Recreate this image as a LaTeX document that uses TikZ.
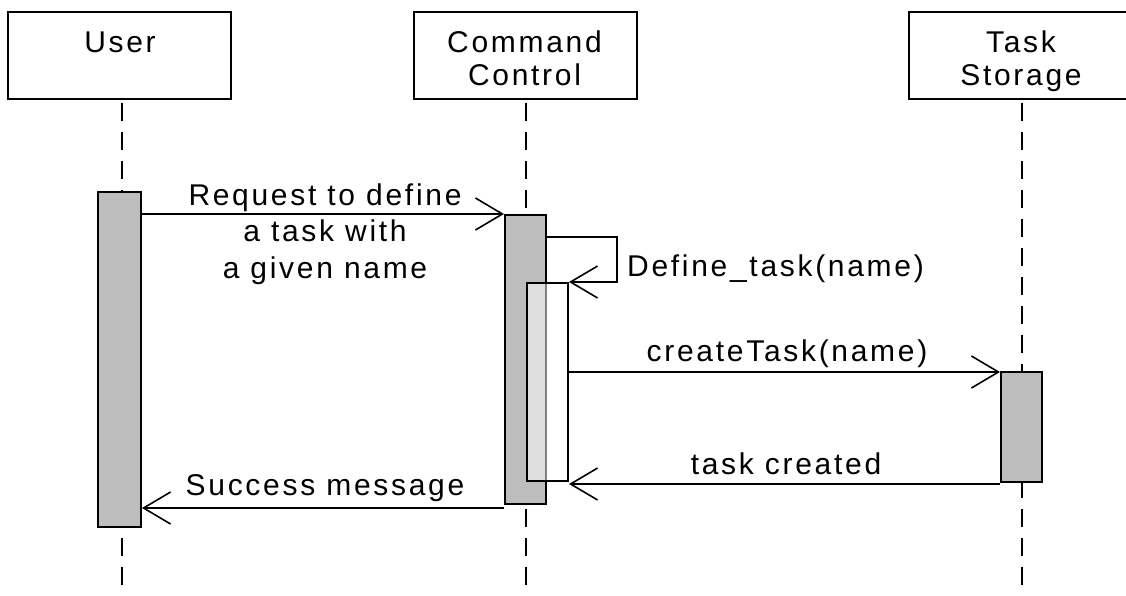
\documentclass[tikz,border=0pt]{standalone}
\usepackage{fontspec}
\setmainfont{Liberation Sans}[LetterSpace=9]
\usetikzlibrary{arrows.meta}
\definecolor{barfill}{HTML}{BDBDBD}

\begin{document}
\begin{tikzpicture}[x=1pt,y=-1pt,
  txt/.style={inner sep=0pt, font=\fontsize{30}{33}\selectfont},
  headbox/.style={draw, line width=2pt, fill=white, inner sep=0pt,
    minimum height=87pt},
  lifeline/.style={line width=2pt, dash pattern=on 18pt off 11pt},
  bar/.style={draw, line width=2pt, fill=barfill, inner sep=0pt},
  subbar/.style={draw, line width=2pt, fill=white, fill opacity=0.5,
    inner sep=0pt},
  msg/.style={line width=1.6pt, line join=miter,
    -{Straight Barb[length=27pt, width=32pt]}}]
\path[use as bounding box, clip] (0,0) rectangle (1126,595);

% participant heads
\node[headbox, minimum width=223pt] (user) at (119.5,55.5) {};
\node[headbox, minimum width=223pt] (cc) at (525.5,55.5) {};
\node[headbox, minimum width=226pt] (ts) at (1022,55.5) {};
\node[txt, anchor=base] (userT) at (120,52) {User};
\node[txt, anchor=north, align=center] (ccT) at (524.5,30.1) {Command\\Control};
\node[txt, anchor=north, align=center] (tsT) at (1021,30.1) {Task\\Storage};

% lifelines
\coordinate (uEnd) at (122,600);
\coordinate (cEnd) at (526,600);
\coordinate (tEnd) at (1022,600);
\draw[lifeline] ([yshift=-3pt]user.south -| uEnd) -- (uEnd);
\draw[lifeline] ([yshift=-3pt]cc.south -| cEnd) -- (cEnd);
\draw[lifeline] ([yshift=-3pt]ts.south -| tEnd) -- (tEnd);

% activation bars
\node[bar, minimum width=43pt, minimum height=335pt] (uAct) at (119.5,359.5) {};
\node[bar, minimum width=41pt, minimum height=289pt] (cAct) at (525.5,359.5) {};
\node[subbar, minimum width=41pt, minimum height=198pt] (cAct2) at (547.5,382) {};
\node[bar, minimum width=41pt, minimum height=110pt] (tAct) at (1021.5,427) {};

% message levels
\coordinate (m1) at (0,214);
\coordinate (m2) at (0,237);
\coordinate (sc) at (617,282);
\coordinate (m3) at (0,372);
\coordinate (m4) at (0,484);
\coordinate (m5) at (0,508);

% messages
\draw[msg] (uAct.east |- m1) -- (cAct.west |- m1);
\draw[msg] (cAct.east |- m2) -| (sc) -- (cAct2.north east);
\draw[msg] (cAct2.east |- m3) -- (tAct.west |- m3);
\draw[msg] (tAct.west |- m4) -- (cAct2.east |- m4);
\draw[msg] (cAct.west |- m5) -- (uAct.east |- m5);

% message labels
\node[txt, anchor=north, align=center, font=\fontsize{30}{36.5}\selectfont]
  (l1) at (325,183.1) {Request to define\\a task with\\a given name};
\node[txt, anchor=base west] (l2) at (627,276) {Define\_task(name)};
\node[txt, anchor=base] (l3) at (787,361) {createTask(name)};
\node[txt, anchor=base] (l4) at (786,474) {task created};
\node[txt, anchor=base] (l5) at (325,495) {Success message};
\end{tikzpicture}
\end{document}
